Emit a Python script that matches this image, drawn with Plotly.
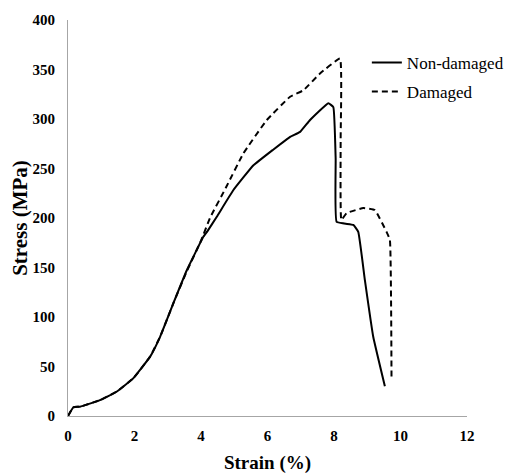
import plotly.graph_objects as go

# Non-damaged specimen
strain_nd = [0, 0.16, 0.36, 0.96, 1.46, 1.96, 2.47, 2.77, 3.17, 3.57, 4.07, 4.2, 4.47,
             4.97, 5.57, 6.17, 6.68, 6.98, 7.28, 7.83, 7.98, 8.05, 8.08, 8.58, 8.73,
             8.93, 9.18, 9.53]
stress_nd = [0, 8.8, 9.4, 16, 24.5, 38, 60, 80, 114, 147, 181, 187, 201,
             228, 253, 269, 282, 287, 299, 316, 312, 260, 196, 193, 186,
             137, 80, 30]

# Damaged specimen
strain_d = [0, 0.16, 0.36, 0.96, 1.46, 1.96, 2.47, 2.77, 3.17, 3.57, 4.0, 4.27, 4.77,
            5.27, 5.98, 6.68, 7.08, 7.58, 8.18, 8.2, 8.22, 8.38, 8.88, 9.23, 9.58,
            9.68, 9.73]
stress_d = [0, 8.8, 9.4, 16, 24.5, 38, 60, 80, 114, 146, 177, 200, 232,
            265, 299, 322.5, 329, 346, 361, 280, 198, 205, 210, 208, 186,
            178, 36]

x_ticks = [0, 2, 4, 6, 8, 10, 12]
y_ticks = [0, 50, 100, 150, 200, 250, 300, 350, 400]

serif = "Liberation Serif"

fig = go.Figure()
fig.add_trace(go.Scatter(x=strain_nd, y=stress_nd, mode="lines", name="Non-damaged",
                         legendgroup="a",
                         line=dict(color="black", width=2, shape="spline", smoothing=0.3)))
fig.add_trace(go.Scatter(x=strain_d, y=stress_d, mode="lines", name="Damaged",
                         legendgroup="b",
                         line=dict(color="black", width=2, dash="6px,4px", shape="spline", smoothing=0.3)))

fig.update_layout(
    width=520, height=473,
    margin=dict(l=60, r=61, t=12, b=65),
    plot_bgcolor="white", paper_bgcolor="white",
    font=dict(family=serif, color="black"),
    showlegend=True,
    legend=dict(x=0.749, y=0.937, xanchor="left", yanchor="top",
                font=dict(family=serif, size=17, color="black"),
                bgcolor="rgba(0,0,0,0)", tracegroupgap=4),
    xaxis=dict(range=[0, 12], tickvals=x_ticks, showgrid=False, zeroline=False,
               showline=True, linecolor="#a6a6a6", linewidth=1, ticks="", automargin=False,
               ticklabelstandoff=6,
               tickfont=dict(family=serif, size=15, color="black", weight="bold"),
               title=dict(text="<b>Strain (%)</b>", font=dict(family=serif, size=19), standoff=12)),
    yaxis=dict(range=[0, 400], tickvals=y_ticks, showgrid=False, zeroline=False,
               showline=True, linecolor="#a6a6a6", linewidth=1, ticks="", automargin=False,
               ticklabelstandoff=9,
               tickfont=dict(family=serif, size=15, color="black", weight="bold"),
               title=dict(text="<b>Stress (MPa)</b>", font=dict(family=serif, size=21), standoff=17)),
)

fig.write_html("out.html")
